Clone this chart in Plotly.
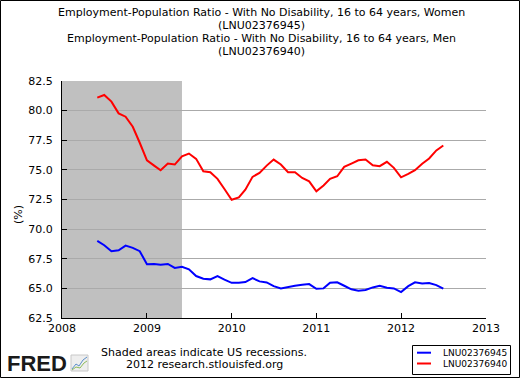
import plotly.graph_objects as go
import pandas as pd

# ---- data ----
start_month = "2008-06-01"
n_months = 50
women = [69.01, 68.64, 68.14, 68.22, 68.61, 68.42, 68.14, 67.03, 67.06, 67.00,
         67.06, 66.72, 66.83, 66.61, 66.04, 65.81, 65.76, 66.04, 65.73, 65.47,
         65.47, 65.53, 65.87, 65.59, 65.50, 65.19, 65.00, 65.08, 65.22, 65.31,
         65.36, 64.97, 65.00, 65.47, 65.51, 65.22, 64.92, 64.80, 64.86, 65.08,
         65.22, 65.05, 65.00, 64.69, 65.19, 65.51, 65.42, 65.45, 65.28, 64.97]
men = [81.10, 81.32, 80.76, 79.77, 79.49, 78.64, 77.29, 75.81, 75.36, 74.97,
       75.53, 75.45, 76.15, 76.38, 75.93, 74.88, 74.80, 74.24, 73.39, 72.48,
       72.68, 73.33, 74.41, 74.75, 75.36, 75.87, 75.45, 74.80, 74.80, 74.32,
       74.03, 73.19, 73.69, 74.24, 74.46, 75.25, 75.53, 75.81, 75.87, 75.39,
       75.31, 75.68, 75.17, 74.37, 74.66, 74.97, 75.51, 75.96, 76.64, 77.06]
women_id = "LNU02376945"
men_id = "LNU02376940"
title_lines = [
    "Employment-Population Ratio - With No Disability, 16 to 64 years, Women",
    "(LNU02376945)",
    "Employment-Population Ratio - With No Disability, 16 to 64 years, Men",
    "(LNU02376940)",
]
recession_start = "2008-01-01"
recession_end = "2009-06-01"
x_range = ["2008-01-01", "2013-01-01"]
y_ticks = [62.5, 65.0, 67.5, 70.0, 72.5, 75.0, 77.5, 80.0, 82.5]

dates = pd.date_range(start_month, periods=n_months, freq="MS")

# ---- layout geometry (pixels) ----
W, H = 520, 378
L, R, T, B = 62, 486, 81, 318
FONT = "DejaVu Sans"


def px(x):
    return (x - L) / (R - L)


def py(y):
    return (B - y) / (B - T)


fig = go.Figure()
fig.add_trace(go.Scatter(x=dates, y=women, mode="lines", name=women_id,
                         line=dict(color="#0000ff", width=2)))
fig.add_trace(go.Scatter(x=dates, y=men, mode="lines", name=men_id,
                         line=dict(color="#ff0000", width=2)))

shapes = [
    dict(type="rect", xref="x", yref="paper", x0=recession_start, x1=recession_end,
         y0=0, y1=1, fillcolor="#c0c0c0", line=dict(width=0), layer="between"),
    # outer frame
    dict(type="rect", xref="paper", yref="paper", x0=px(0.5), x1=px(519.5),
         y0=py(377.5), y1=py(0.5), line=dict(color="black", width=1),
         fillcolor="rgba(0,0,0,0)"),
    # legend box
    dict(type="rect", xref="paper", yref="paper", x0=px(412.5), x1=px(510.5),
         y0=py(374.5), y1=py(345.5), line=dict(color="black", width=1),
         fillcolor="white"),
    dict(type="line", xref="paper", yref="paper", x0=px(417), x1=px(431),
         y0=py(352.7), y1=py(352.7), line=dict(color="#0000ff", width=2)),
    dict(type="line", xref="paper", yref="paper", x0=px(417), x1=px(431),
         y0=py(363.5), y1=py(363.5), line=dict(color="#ff0000", width=2)),
    # FRED small chart icon
    dict(type="rect", xref="paper", yref="paper", x0=px(71), x1=px(88),
         y0=py(371), y1=py(355), line=dict(color="#c8c8c8", width=1),
         fillcolor="#eeeeee"),
    dict(type="path", xref="paper", yref="paper",
         path=f"M {px(72)},{py(369)} L {px(76)},{py(364)} L {px(79)},{py(366)} "
              f"L {px(83)},{py(360)} L {px(87)},{py(357)}",
         line=dict(color="#5b8fc9", width=1)),
    dict(type="path", xref="paper", yref="paper",
         path=f"M {px(72)},{py(370)} L {px(76)},{py(367)} L {px(80)},{py(368)} "
              f"L {px(84)},{py(363)} L {px(87)},{py(361)}",
         line=dict(color="#8dbb5a", width=1)),
]

annotations = []
for i, (t, yy) in enumerate(zip(title_lines, [12, 25.5, 39, 52])):
    annotations.append(dict(text=t, xref="paper", yref="paper", x=px(261), y=py(yy),
                            xanchor="center", yanchor="middle", showarrow=False,
                            font=dict(family=FONT, size=11, color="black")))
annotations += [
    dict(text="(%)", xref="paper", yref="paper", x=px(18), y=py(215),
         textangle=-90, showarrow=False, xanchor="center", yanchor="middle",
         font=dict(family=FONT, size=11, color="black")),
    dict(text="Shaded areas indicate US recessions.", xref="paper", yref="paper",
         x=px(204), y=py(352), showarrow=False, xanchor="center", yanchor="middle",
         font=dict(family=FONT, size=11, color="black")),
    dict(text="2012 research.stlouisfed.org", xref="paper", yref="paper",
         x=px(204), y=py(364.5), showarrow=False, xanchor="center", yanchor="middle",
         font=dict(family=FONT, size=11, color="black")),
    dict(text="<b>FRED</b>", xref="paper", yref="paper",
         x=px(5), y=py(363.5), showarrow=False, xanchor="left", yanchor="middle",
         font=dict(family="Liberation Sans", size=22, color="#1a1a1a")),
    dict(text=women_id, xref="paper", yref="paper", x=px(441), y=py(353),
         showarrow=False, xanchor="left", yanchor="middle",
         font=dict(family=FONT, size=9, color="black")),
    dict(text=men_id, xref="paper", yref="paper", x=px(441), y=py(363.5),
         showarrow=False, xanchor="left", yanchor="middle",
         font=dict(family=FONT, size=9, color="black")),
]

fig.update_layout(
    width=W, height=H,
    margin=dict(l=L, r=W - R, t=T, b=H - B, pad=0),
    paper_bgcolor="white", plot_bgcolor="white",
    showlegend=False,
    font=dict(family=FONT, size=11, color="black"),
    shapes=shapes, annotations=annotations,
    xaxis=dict(type="date", range=x_range, tick0="2008-01-01", dtick="M12",
               tickformat="%Y", ticks="inside", ticklen=5, tickcolor="black",
               showgrid=False, showline=True, linecolor="black", linewidth=1,
               zeroline=False, tickfont=dict(family=FONT, size=11)),
    yaxis=dict(range=[62.5, 82.5], tickvals=y_ticks,
               ticktext=[f"{v:.1f}" for v in y_ticks], ticks="inside", ticklen=5,
               tickcolor="black", showgrid=True, gridcolor="#aaaaaa", gridwidth=1,
               showline=True, linecolor="black", linewidth=1, zeroline=False,
               ticklabelstandoff=6, tickfont=dict(family=FONT, size=11)),
)

fig.write_html("out.html",
               config={"displayModeBar": False},
               post_script="document.body.style.margin='0';"
                           "document.body.style.overflow='hidden';")
